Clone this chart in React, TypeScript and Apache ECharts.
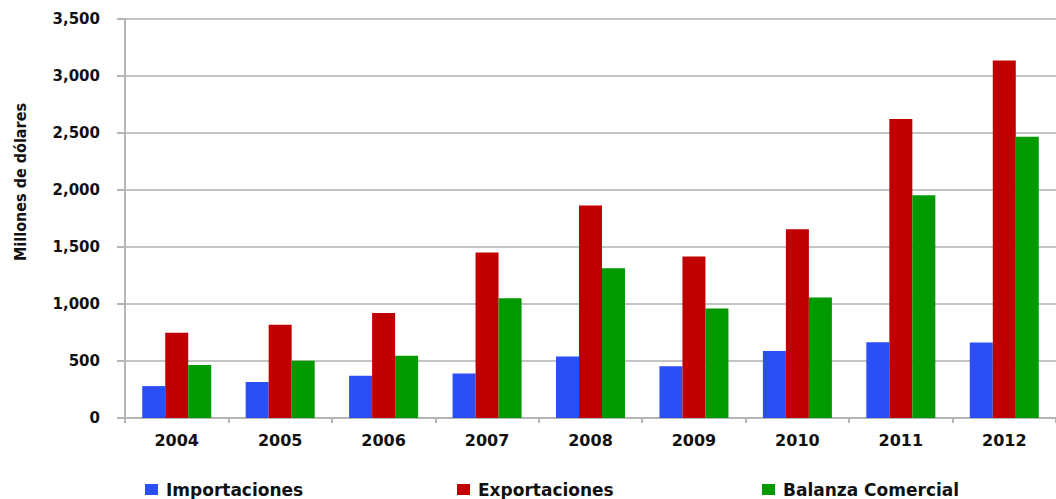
import React, { useEffect, useRef } from "react";
import * as echarts from "echarts";

const categories = ["2004", "2005", "2006", "2007", "2008", "2009", "2010", "2011", "2012"];
const importaciones = [280, 315, 370, 391, 540, 453, 587, 665, 663];
const exportaciones = [747, 817, 922, 1451, 1863, 1416, 1655, 2622, 3135];
const balanza = [464, 502, 546, 1051, 1314, 960, 1057, 1953, 2467];
const seriesNames = ["Importaciones", "Exportaciones", "Balanza Comercial"];
const colors = ["#2b4ef5", "#c00000", "#009900"];
const yTitle = "Millones de dólares";

const tickFont = "DejaVu Sans";

export default function App() {
  const ref = useRef<HTMLDivElement>(null);
  useEffect(() => {
    if (!ref.current) return;
    const chart = echarts.init(ref.current, null, { renderer: "svg" });
    const dataSets = [importaciones, exportaciones, balanza];
    const legendLefts = [140, 452, 757];
    chart.setOption({
      animation: false,
      backgroundColor: "#ffffff",
      grid: { left: 125, right: -6, top: 19, bottom: 81, containLabel: false },
      legend: seriesNames.map((n, i) => ({
        data: [n],
        left: legendLefts[i],
        top: 476,
        padding: 5,
        itemWidth: 13,
        itemHeight: 11,
        itemGap: 0,
        icon: "rect",
        textStyle: {
          fontFamily: tickFont,
          fontWeight: "bold",
          fontSize: 17,
          color: "#111",
          padding: [0, 0, 0, 3],
        },
        selectedMode: false,
      })),
      xAxis: {
        type: "category",
        data: categories,
        axisLine: { show: true, lineStyle: { color: "#b5b5b5", width: 2 } },
        axisTick: { show: true, length: 5, lineStyle: { color: "#b5b5b5", width: 2 } },
        axisLabel: {
          margin: 14,
          fontFamily: tickFont,
          fontWeight: "bold",
          fontSize: 16,
          color: "#111",
        },
      },
      yAxis: {
        type: "value",
        min: 0,
        max: 3500,
        interval: 500,
        axisLine: { show: true, lineStyle: { color: "#b5b5b5", width: 2 } },
        axisTick: { show: true, length: 8, lineStyle: { color: "#b5b5b5", width: 2 } },
        splitLine: { show: true, lineStyle: { color: "#c4c4c4", width: 2 } },
        axisLabel: {
          margin: 25,
          fontFamily: tickFont,
          fontWeight: "bold",
          fontSize: 15,
          color: "#111",
          formatter: (v: number) => v.toLocaleString("en-US"),
        },
      },
      graphic: [
        {
          type: "text",
          x: 20,
          y: 182,
          rotation: Math.PI / 2,
          style: {
            text: yTitle,
            fontFamily: "DejaVu Sans Condensed",
            fontWeight: "bold",
            fontSize: 16,
            fill: "#111",
            align: "center",
            verticalAlign: "middle",
          },
        },
      ],
      series: seriesNames.map((n, i) => ({
        name: n,
        type: "bar",
        data: dataSets[i],
        barWidth: 23,
        barGap: "0%",
        itemStyle: { color: colors[i] },
      })),
    });
    return () => chart.dispose();
  }, []);
  return (
    <div
      ref={ref}
      style={{ position: "absolute", left: 0, top: 0, width: 1056, height: 499 }}
    />
  );
}
